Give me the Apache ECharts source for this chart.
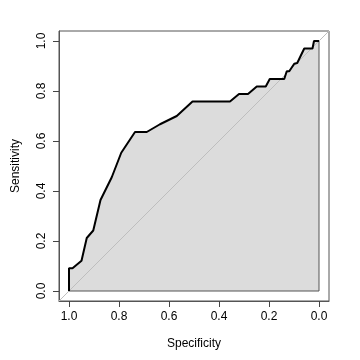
<!DOCTYPE html>
<html>
<head>
<meta charset="utf-8">
<script src="https://cdn.jsdelivr.net/npm/echarts@6/dist/echarts.min.js"></script>
<style>html,body{margin:0;padding:0;background:#fff;}#c{width:360px;height:360px;}</style>
</head>
<body>
<div id="c"></div>
<script>
// ROC curve
var specificity = [1.0, 1.0, 0.986, 0.950, 0.929, 0.903, 0.874, 0.829, 0.791, 0.736, 0.689, 0.636, 0.569, 0.506, 0.356, 0.320, 0.284, 0.249, 0.213, 0.197, 0.139, 0.129, 0.119, 0.099, 0.087, 0.076, 0.059, 0.026, 0.020, 0.0];
var sensitivity = [0.0, 0.091, 0.091, 0.121, 0.212, 0.242, 0.364, 0.455, 0.553, 0.636, 0.636, 0.667, 0.700, 0.758, 0.758, 0.788, 0.788, 0.818, 0.818, 0.848, 0.848, 0.879, 0.879, 0.909, 0.912, 0.935, 0.970, 0.970, 1.0, 1.0];
var tickValues = [0, 0.2, 0.4, 0.6, 0.8, 1.0];
var xTitle = 'Specificity';
var yTitle = 'Sensitivity';
var axisMin = -0.04, axisMax = 1.04;

var curve = specificity.map(function (s, i) { return [s, sensitivity[i]]; });
var font = 'Liberation Sans, Arial, Helvetica, sans-serif';

var chart = echarts.init(document.getElementById('c'), null, {renderer: 'canvas'});
chart.setOption({
  animation: false,
  backgroundColor: '#ffffff',
  grid: {left: 59, right: 31, top: 31, bottom: 59, outerBoundsMode: 'none', containLabel: false,
    show: true, borderColor: '#555', borderWidth: 1, backgroundColor: 'transparent'},
  xAxis: {
    type: 'value', inverse: true, min: axisMin, max: axisMax,
    name: xTitle, nameLocation: 'middle', nameGap: 37,
    nameTextStyle: {fontFamily: font, fontSize: 12, color: '#000'},
    axisLine: {show: true, onZero: false, lineStyle: {color: '#555', width: 1}},
    axisTick: {show: true, customValues: tickValues, length: 6, lineStyle: {color: '#444'}},
    axisLabel: {customValues: tickValues, margin: 10, fontFamily: font, fontSize: 12, color: '#000',
      formatter: function (v) { return v.toFixed(1); }},
    splitLine: {show: false}
  },
  yAxis: {
    type: 'value', min: axisMin, max: axisMax,
    name: yTitle, nameLocation: 'middle', nameGap: 37,
    nameTextStyle: {fontFamily: font, fontSize: 12, color: '#000'},
    axisLine: {show: true, onZero: false, lineStyle: {color: '#555', width: 1}},
    axisTick: {show: true, customValues: tickValues, length: 6, lineStyle: {color: '#444'}},
    axisLabel: {customValues: tickValues, rotate: 90, margin: 11, fontFamily: font, fontSize: 12, color: '#000',
      formatter: function (v) { return v.toFixed(1); }},
    splitLine: {show: false}
  },
  series: [
    {
      type: 'line', data: curve, symbol: 'none', z: 1,
      lineStyle: {width: 0, opacity: 0},
      areaStyle: {color: '#dcdcdc', opacity: 1, origin: 0}
    },
    {
      type: 'line', data: [[specificity[0], 0], [0, 0], [0, 1]], symbol: 'none', z: 2,
      lineStyle: {color: '#555', width: 1}
    },
    {
      type: 'line', data: [[axisMax, axisMin], [axisMin, axisMax]], symbol: 'none', z: 3,
      lineStyle: {color: '#bebebe', width: 1}
    },
    {
      type: 'line', data: curve, symbol: 'none', z: 4,
      lineStyle: {color: '#000', width: 2}
    }
  ]
});
</script>
</body>
</html>
